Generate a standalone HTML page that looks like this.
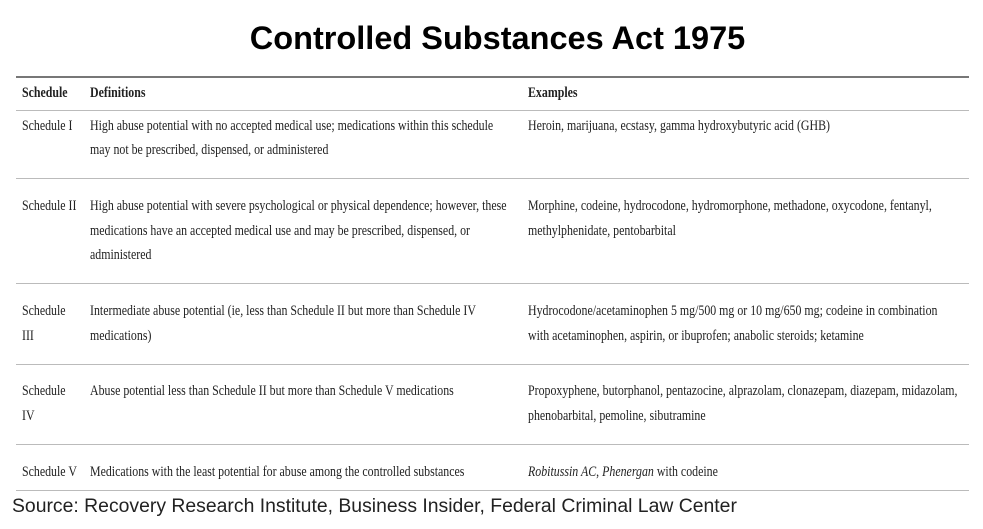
<!DOCTYPE html>
<html><head><meta charset="utf-8"><style>
body{margin:0;width:983px;height:529px;background:#fff;position:relative;overflow:hidden}
.t{position:absolute;white-space:nowrap;font-family:"Liberation Serif",serif;font-size:14.5px;color:#222;transform:scaleX(0.82);transform-origin:left center;line-height:16px}
.b{font-weight:bold}
.l{position:absolute;left:16px;width:953px;height:1px;background:#bbb}
h1{position:absolute;top:18px;left:6px;width:983px;text-align:center;margin:0;font-family:"Liberation Sans",sans-serif;font-weight:bold;font-size:32.5px;color:#000;line-height:40px}
.s{position:absolute;left:12px;top:496px;font-family:"Liberation Sans",sans-serif;font-size:19px;color:#222;white-space:nowrap;transform:scaleX(1.02);transform-origin:left}
</style></head><body>
<h1>Controlled Substances Act 1975</h1>
<div class="l" style="top:76px;height:2px;background:#777"></div>
<div class="l" style="top:110px"></div>
<div class="l" style="top:178px"></div>
<div class="l" style="top:283px"></div>
<div class="l" style="top:364px"></div>
<div class="l" style="top:444px"></div>
<div class="l" style="top:490px"></div>

<div class="t b" style="left:22px;top:85px">Schedule</div>
<div class="t b" style="left:90px;top:85px">Definitions</div>
<div class="t b" style="left:528px;top:85px">Examples</div>

<div class="t" style="left:22px;top:118px">Schedule I</div>
<div class="t" style="left:90px;top:118px">High abuse potential with no accepted medical use; medications within this schedule</div>
<div class="t" style="left:90px;top:142px">may not be prescribed, dispensed, or administered</div>
<div class="t" style="left:528px;top:118px">Heroin, marijuana, ecstasy, gamma hydroxybutyric acid (GHB)</div>

<div class="t" style="left:22px;top:198px">Schedule II</div>
<div class="t" style="left:90px;top:198px">High abuse potential with severe psychological or physical dependence; however, these</div>
<div class="t" style="left:90px;top:223px">medications have an accepted medical use and may be prescribed, dispensed, or</div>
<div class="t" style="left:90px;top:247px">administered</div>
<div class="t" style="left:528px;top:198px">Morphine, codeine, hydrocodone, hydromorphone, methadone, oxycodone, fentanyl,</div>
<div class="t" style="left:528px;top:223px">methylphenidate, pentobarbital</div>

<div class="t" style="left:22px;top:303px">Schedule</div>
<div class="t" style="left:22px;top:328px">III</div>
<div class="t" style="left:90px;top:303px">Intermediate abuse potential (ie, less than Schedule II but more than Schedule IV</div>
<div class="t" style="left:90px;top:328px">medications)</div>
<div class="t" style="left:528px;top:303px">Hydrocodone/acetaminophen 5 mg/500 mg or 10 mg/650 mg; codeine in combination</div>
<div class="t" style="left:528px;top:328px">with acetaminophen, aspirin, or ibuprofen; anabolic steroids; ketamine</div>

<div class="t" style="left:22px;top:383px">Schedule</div>
<div class="t" style="left:22px;top:408px">IV</div>
<div class="t" style="left:90px;top:383px">Abuse potential less than Schedule II but more than Schedule V medications</div>
<div class="t" style="left:528px;top:383px">Propoxyphene, butorphanol, pentazocine, alprazolam, clonazepam, diazepam, midazolam,</div>
<div class="t" style="left:528px;top:408px">phenobarbital, pemoline, sibutramine</div>

<div class="t" style="left:22px;top:464px">Schedule V</div>
<div class="t" style="left:90px;top:464px">Medications with the least potential for abuse among the controlled substances</div>
<div class="t" style="left:528px;top:464px"><i>Robitussin AC</i>, <i>Phenergan</i> with codeine</div>

<div class="s">Source: Recovery Research Institute, Business Insider, Federal Criminal Law Center</div>
</body></html>
